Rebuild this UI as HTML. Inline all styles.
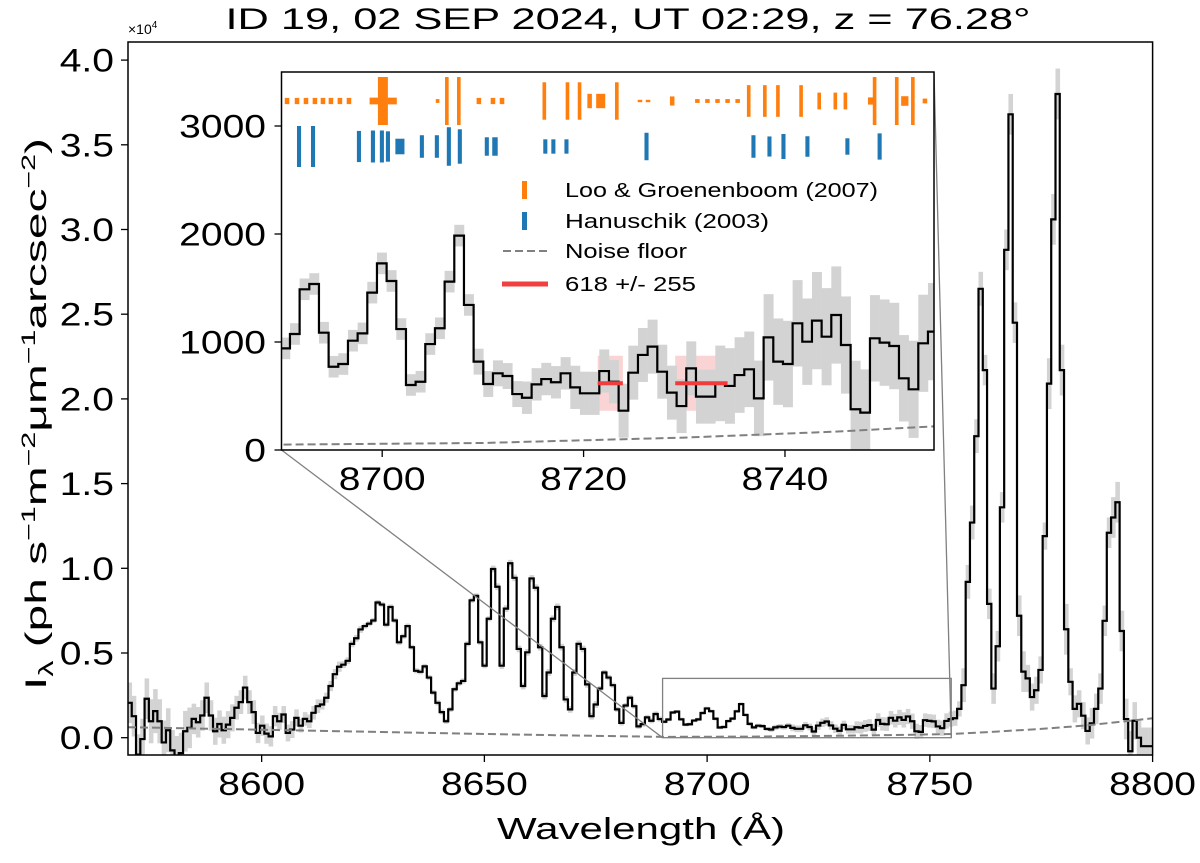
<!DOCTYPE html>
<html><head><meta charset="utf-8"><style>
html,body{margin:0;padding:0;background:#fff;}
svg text{font-family:"Liberation Sans",Arial,sans-serif;}
</style></head><body>
<svg id="chart" width="1200" height="858" viewBox="0 0 1200 858" xmlns="http://www.w3.org/2000/svg">
<defs>
<clipPath id="mainClip"><rect x="128" y="42" width="1024.6" height="713"/></clipPath>
<clipPath id="insetClip"><rect x="281.5" y="72" width="652.5" height="378"/></clipPath>
</defs>
<rect x="0" y="0" width="1200" height="858" fill="#fff"/>
<g id="mainLayer"></g>
<g id="insetLayer"></g>
<text x="628" y="29" text-anchor="middle" font-size="30" textLength="805" lengthAdjust="spacingAndGlyphs">ID 19, 02 SEP 2024, UT 02:29, z = 76.28°</text>
<text x="128" y="34" font-size="14">×10<tspan dy="-6" font-size="10">4</tspan></text>
<text x="641" y="839" text-anchor="middle" font-size="31" textLength="288" lengthAdjust="spacingAndGlyphs">Wavelength (Å)</text>
<text transform="translate(46,414) rotate(-90)" text-anchor="middle" font-size="30" textLength="552" lengthAdjust="spacingAndGlyphs">I<tspan font-size="20" dy="7">λ</tspan><tspan dy="-7"> (ph s</tspan><tspan font-size="19" dy="-11">−1</tspan><tspan dy="11">m</tspan><tspan font-size="19" dy="-11">−2</tspan><tspan dy="11">μm</tspan><tspan font-size="19" dy="-11">−1</tspan><tspan dy="11">arcsec</tspan><tspan font-size="19" dy="-11">−2</tspan><tspan dy="11">)</tspan></text>
</svg>
<script>
// ---- data ----
const binStart = 8569.88;
const binWidth = 0.96;
const flux = [
2060,1270,-1000,-80,2300,970,1570,970,-280,440,-750,-1100,-910,380,580,1110,910,1310,2360,1310,
380,810,440,770,1170,1770,2100,2960,2100,1510,280,710,240,80,1270,970,1370,280,480,1170,
710,1110,970,1470,1860,1960,2360,3050,3750,4190,4310,4540,5540,5870,6390,6590,6730,6920,7980,7860,
6670,7720,6920,5630,5990,6590,5340,3950,3890,4210,3550,2660,2060,1510,970,1670,2860,3210,3350,5540,
8110,8370,5630,4250,7020,9960,8910,4250,7620,10300,9440,5240,3050,5040,9400,8850,5340,2460,3850,7020,
7720,5340,2260,1670,3850,5540,5240,3150,1270,1960,2900,3850,3550,3100,1670,870,1900,2360,1860,670,
800,1200,1000,1400,1100,
941,1074,1488,1537,1086,771,796,1012,1080,1457,1728,1565,1120,602,632,981,1127,1559,1985,1343,
818,611,710,685,518,484,608,657,627,710,580,525,525,731,
632,364,716,880,957,725,531,407,756,494,494,617,593,694,747,478,1043,818,796,1173,1003,1198,1049,1250,972,
377,346,1034,994,963,664,562,988,1096,1150,
1700,3100,9200,12700,17800,26500,21700,7900,2900,5400,13600,28800,36800,24500,7200,3900,3500,2400,2800,4000,
11900,20900,30600,38000,21700,6400,3300,1700,2000,1300,400,850,1700,2900,6900,12100,13000,13900,6300,1100,
-800,1000,0,-500,-500,-500
];
const errCoarse = [1200,1300,1200,900,800,700,600,500,400,300,200,150,150,150,150,150,150,200,200,200,
200,200,150,150,150,100,100,100,100,120,150,200,250,250,350,400,450,400,450,1000,900,1200,800,1500,800,900,1200,1100];
const noiseLam = [8570,8590,8610,8630,8650,8670,8690,8710,8730,8745,8755,8765,8775,8785,8795,8800];
const noiseVal = [620,520,420,320,220,130,50,65,115,170,220,360,520,720,1000,1150];
const looLam = [8690.55,8691.54,8692.43,8693.32,8694.12,8694.91,8695.80,8696.70,8699.2,8700.07,8701.0,8705.5,8706.42,8707.61,8709.6,8711.0,8711.9,
8716.1,8718.4,8719.6,8720.6,8721.7,8723.3,8725.6,8726.4,8728.8,8731.3,8732.3,8733.3,8734.3,8735.3,
8736.4,8738.0,8739.3,8741.6,8743.4,8745.0,8746.0,8748.6,8748.9,8751.1,8751.9,8752.7,8753.9];
const looStrength = [0.13,0.13,0.13,0.13,0.13,0.13,0.13,0.13,0.14,1.0,0.14,0.08,1.0,1.0,0.13,0.13,0.13,
0.78,0.78,0.78,0.3,0.3,0.78,0.05,0.05,0.19,0.08,0.08,0.08,0.08,0.08,
0.66,0.66,0.66,0.66,0.35,0.35,0.35,0.15,1.0,1.0,0.2,1.0,0.1];
const looWidth = [0.5,0.5,0.5,0.5,0.5,0.5,0.5,0.5,1.0,1.1,1.0,0.4,0.4,0.4,0.5,0.5,0.5,
0.4,0.4,0.4,0.5,1.0,0.4,0.5,0.5,0.5,0.5,0.5,0.5,0.5,0.5,
0.4,0.4,0.4,0.4,0.4,0.4,0.4,0.8,0.4,0.4,0.8,0.4,0.5];
const hanLam = [8691.74,8693.13,8697.69,8699.08,8699.97,8700.57,8701.76,8703.94,8705.43,8706.62,8707.71,8710.39,8711.2,
8716.2,8717.0,8718.3,8726.25,8736.87,8738.46,8739.85,8742.23,8746.2,8749.4];
const hanStrength = [1.0,1.0,0.76,0.78,0.78,0.74,0.38,0.55,0.55,0.94,0.84,0.45,0.45,0.35,0.35,0.35,0.67,0.55,0.49,0.61,0.5,0.4,0.64];
const hanWidth = [0.45,0.45,0.45,0.45,0.45,0.45,1.0,0.45,0.45,0.45,0.45,0.45,0.6,0.45,0.45,0.45,0.45,0.45,0.45,0.45,0.45,0.45,0.45];
const fitLevel = 618, fitErr = 255;
const fitRanges = [[8721.4,8723.9],[8729.1,8734.3]];
const mainXTicks = [8600,8650,8700,8750,8800];
const mainYTicks = [0,0.5,1,1.5,2,2.5,3,3.5,4];
const insetXTicks = [8700,8720,8740];
const insetYTicks = [0,1000,2000,3000];

// ---- axes ----
const NS='http://www.w3.org/2000/svg';
function mk(tag, attrs, parent){const e=document.createElementNS(NS,tag);for(const k in attrs)e.setAttribute(k,attrs[k]);parent.appendChild(e);return e;}
const mx = l => 128 + (l-8570)*(1024.6/230);
const my = v => 737.7 - v/10000*169.4;
const ix = l => 281.5 + (l-8690)*(652.5/64.8);
const iy = v => 450 - v*0.108;
const errAt = i => errCoarse[Math.floor(i/5)];
function label(parent, x, y, anchor, str){
  const t=mk('text',{transform:'translate('+x+','+y+') scale(1.22,1)','text-anchor':anchor,'font-size':32},parent);
  t.textContent=str;
  return t;
}

function drawSpectrum(g, X, Y, lo, hi){
  for(let i=0;i<flux.length;i++){
    const a=binStart+i*binWidth, b=a+binWidth;
    if(b<lo||a>hi) continue;
    const e=errAt(i);
    const r=mk('rect',{x:X(a),y:Y(flux[i]+e),width:X(b)-X(a)+0.3,height:Y(flux[i]-e)-Y(flux[i]+e),fill:'#d3d3d3'},g);
    
    
  }
  let d='';
  for(let i=0;i<flux.length;i++){
    const a=binStart+i*binWidth, b=a+binWidth;
    if(b<lo||a>hi) continue;
    d += (d===''?'M':'L')+X(a).toFixed(2)+','+Y(flux[i]).toFixed(2)+'H'+X(b).toFixed(2);
  }
  const p=mk('path',{d:d,fill:'none',stroke:'#000','stroke-width':2.2,'stroke-linejoin':'miter'},g);
  
  
  let nd='';
  noiseLam.forEach((l,k)=>{nd+=(k?'L':'M')+X(l).toFixed(2)+','+Y(noiseVal[k]).toFixed(2);});
  const n=mk('path',{d:nd,fill:'none',stroke:'#808080','stroke-width':2,'stroke-dasharray':'8,4'},g);
  
  
}

// main
const main=document.getElementById('mainLayer');
const mclip=mk('g',{'clip-path':'url(#mainClip)'},main);
drawSpectrum(mclip, mx, my, 8560, 8810);
const box=mk('rect',{x:mx(8690),y:my(3500),width:mx(8754.8)-mx(8690),height:my(0)-my(3500),fill:'none',stroke:'#808080','stroke-width':1.3},main);


const c1=mk('line',{x1:281.5,y1:450,x2:mx(8690),y2:my(0),stroke:'#808080','stroke-width':1.3},main);


const c2=mk('line',{x1:934,y1:72,x2:mx(8754.8),y2:my(0),stroke:'#808080','stroke-width':1.3},main);


const mframe=mk('rect',{x:128,y:42,width:1024.6,height:713,fill:'none',stroke:'#000','stroke-width':1.5},main);


mainXTicks.forEach(t=>{
  const l=mk('line',{x1:mx(t),x2:mx(t),y1:755,y2:762,stroke:'#000','stroke-width':1.3},main);
  
  
  const tx=label(main, mx(t), 795, 'middle', String(t));
  
  
});
mainYTicks.forEach(t=>{
  const y=my(t*10000);
  const l=mk('line',{x1:121,x2:128,y1:y,y2:y,stroke:'#000','stroke-width':1.3},main);
  
  
  const tx=label(main, 114, y+11.5, 'end', t.toFixed(1));
  
  
});

// inset
const ins=document.getElementById('insetLayer');
const ibg=mk('rect',{x:281.5,y:72,width:652.5,height:378,fill:'#fff'},ins);


const iclip=mk('g',{'clip-path':'url(#insetClip)'},ins);
fitRanges.forEach(r=>{
  const b=mk('rect',{x:ix(r[0]),y:iy(fitLevel+fitErr),width:ix(r[1])-ix(r[0]),height:iy(fitLevel-fitErr)-iy(fitLevel+fitErr),fill:'#f4a0a0','fill-opacity':0.45},iclip);
  
  
});
drawSpectrum(iclip, ix, iy, 8680, 8760);
fitRanges.forEach(r=>{
  const l=mk('line',{x1:ix(r[0]),x2:ix(r[1]),y1:iy(fitLevel),y2:iy(fitLevel),stroke:'#f03c3c','stroke-width':4},iclip);
  
  
});
looLam.forEach((l,k)=>{
  const h=24*looStrength[k], w=Math.max(2.5,looWidth[k]*10.08*0.9);
  const r=mk('rect',{x:ix(l)-w/2,y:101-h,width:w,height:2*h,fill:'#ff7f0e'},iclip);
  
  
});
hanLam.forEach((l,k)=>{
  const h=20.5*hanStrength[k], w=Math.max(3,hanWidth[k]*10.08*0.9);
  const r=mk('rect',{x:ix(l)-w/2,y:146.5-h,width:w,height:2*h,fill:'#1f77b4'},iclip);
  
  
});
const iframe=mk('rect',{x:281.5,y:72,width:652.5,height:378,fill:'none',stroke:'#000','stroke-width':1.5},ins);


insetXTicks.forEach(t=>{
  const l=mk('line',{x1:ix(t),x2:ix(t),y1:450,y2:457,stroke:'#000','stroke-width':1.3},ins);
  
  
  const tx=label(ins, ix(t), 490, 'middle', String(t));
  
  
});
insetYTicks.forEach(t=>{
  const y=iy(t);
  const l=mk('line',{x1:274.5,x2:281.5,y1:y,y2:y,stroke:'#000','stroke-width':1.3},ins);
  
  
  const tx=label(ins, 266, y+11.5, 'end', String(t));
  
  
});
// legend
const lg=mk('g',{},ins);


const items=[['Loo & Groenenboom (2007)',197,'loo',313],['Hanuschik (2003)',228,'han',204],['Noise floor',258,'noise',122],['618 +/- 255',291,'fit',131]];
items.forEach(it=>{
  const y=it[1]-7;
  let m;
  if(it[2]==='loo') m=mk('rect',{x:522,y:y-9,width:5,height:18,fill:'#ff7f0e'},lg);
  else if(it[2]==='han') m=mk('rect',{x:522,y:y-9,width:5,height:18,fill:'#1f77b4'},lg);
  else if(it[2]==='noise') m=mk('line',{x1:503,x2:547,y1:y,y2:y,stroke:'#808080','stroke-width':2,'stroke-dasharray':'8,4'},lg);
  else m=mk('line',{x1:502,x2:548,y1:y,y2:y,stroke:'#f04040','stroke-width':5},lg);
  
  
  const t=mk('text',{x:565,y:it[1],'font-size':20,textLength:it[3],lengthAdjust:'spacingAndGlyphs'},lg);
  t.textContent=it[0];
  
  
});
</script>
</body></html>
